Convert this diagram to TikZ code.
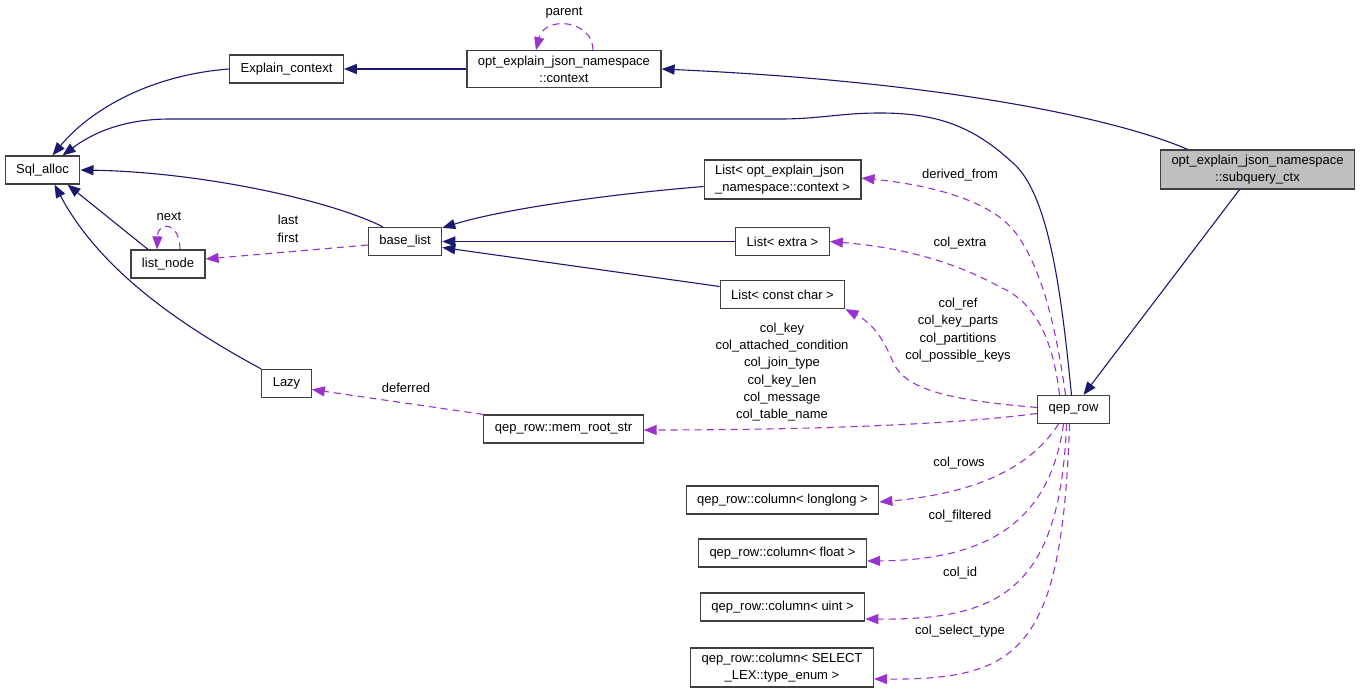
\documentclass[tikz,border=0pt]{standalone}
\usepackage{fontspec}
\setmainfont{Liberation Sans}
\usetikzlibrary{arrows.meta}
\definecolor{inhblue}{HTML}{191970}
\definecolor{usepurple}{HTML}{9A32CD}
\definecolor{focusgray}{HTML}{BFBFBF}

\begin{document}
\begin{tikzpicture}[x=1pt, y=-1pt, font=\fontsize{13}{17}\selectfont,
    cls/.style={draw=black!75, fill=white, line width=1.2pt, inner xsep=11pt, inner ysep=5pt, minimum height=28pt, align=center},
    inh/.style={draw=inhblue, line width=1.1pt, -{Triangle[length=13pt,width=10pt]}},
    use/.style={draw=usepurple, line width=1.1pt, dash pattern=on 7pt off 5pt, -{Triangle[length=13pt,width=10pt]}},
    lbl/.style={inner sep=0pt, align=center, font=\fontsize{13}{17.3}\selectfont}]
        \useasboundingbox (0,0) rectangle (1360,696);

        % Classes
        \node (sql) at (42.5,170) [cls] {Sql\_alloc};
        \node (exc) at (286.5,69) [cls] {Explain\_context};
        \node (ctx) at (564,69) [cls] {opt\_explain\_json\_namespace\\::context};
        \node (sub) at (1257.5,169.5) [cls, fill=focusgray] {opt\_explain\_json\_namespace\\::subquery\_ctx};
        \node (lst) at (168,264) [cls] {list\_node};
        \node (base) at (405,241.5) [cls] {base\_list};
        \node (lazy) at (286.5,383.5) [cls] {Lazy};
        \node (mem) at (563.5,429) [cls] {qep\_row::mem\_root\_str};
        \node (qep) at (1073.5,409.5) [cls] {qep\_row};

        % Lists
        \node (lopt) at (782.5,179.5) [cls, align=left] {List< opt\_explain\_json\\\_namespace::context >};
        \node (lext) at (782.5,241.5) [cls] {List< extra >};
        \node (lcc) at (782.5,294.5) [cls] {List< const char >};

        % Columns
        \foreach \n/\y/\t in {clong/500/longlong, cflt/553/float, cuint/607/uint}
            \node (\n) at (782.5,\y) [cls] {qep\_row::column< \t{} >};
        \node (csel) at (782,667.5) [cls] {qep\_row::column< SELECT\\\_LEX::type\_enum >};

        % Inheritance
        \draw[inh] (exc.west) .. controls (150,75) and (90,110) .. ([xshift=10pt]sql.north);
        \draw[inh] (ctx.west) -- (exc.east);
        \draw[inh] ([xshift=-70pt]sub.north) .. controls (1120,120) and (950,82) .. (ctx.east);
        \draw[inh] ([xshift=-2pt]qep.north) .. controls (1062,300) and (1050,195) .. (1013,163)
            .. controls (975,128) and (940,113) .. (880,113) .. controls (840,113) and (820,119) .. (780,119)
            -- (170,119) .. controls (120,119) and (90,135) .. ([xshift=20pt]sql.north);
        \draw[inh] ([xshift=-22pt]base.north) .. controls (330,200) and (200,172) .. (sql.east);
        \draw[inh] ([xshift=-20pt]lst.north) -- ([xshift=25pt]sql.south);
        \draw[inh] (lazy.north west) .. controls (180,325) and (100,270) .. ([xshift=12pt]sql.south);
        \draw[inh] ([yshift=-7pt]lopt.west) .. controls (600,195) and (500,210) .. ([yshift=-1pt]base.north east);
        \draw[inh] (lext.west) -- (base.east);
        \draw[inh] ([yshift=8pt]lcc.west) -- ([yshift=-6pt]base.east);
        \draw[inh] ([xshift=-18pt]sub.south) -- ([xshift=10pt]qep.north);

        % Members
        \draw[use] ([xshift=29pt]ctx.north) .. controls (593,20) and (545,15) .. ([xshift=-28pt]ctx.north);
        \draw[use] ([xshift=12pt]lst.north) .. controls (180,222) and (158,220) .. ([xshift=-11pt]lst.north);
        \draw[use] ([yshift=-3.5pt]base.west) -- ([yshift=5pt]lst.east);
        \draw[use] (mem.north west) -- ([yshift=-6pt]lazy.east);
        \draw[use] ([yshift=-4pt]qep.west) .. controls (950,425) and (800,430) .. ([yshift=-1pt]mem.east);
        \draw[use] ([yshift=2pt]qep.west) .. controls (950,400) and (905,390) .. (893,362)
            .. controls (882,335) and (870,322) .. (lcc.south east);
        \draw[use] ([xshift=-14pt]qep.north) .. controls (1052,330) and (1030,300) .. (1000,287)
            .. controls (960,265) and (910,248) .. (lext.east);
        \draw[use] ([xshift=-8pt]qep.north) .. controls (1055,320) and (1040,265) .. (1015,232)
            .. controls (990,200) and (930,185) .. ([yshift=1.5pt]lopt.east);
        \draw[use] ([xshift=-15pt]qep.south) .. controls (1035,460) and (990,492) .. ([yshift=-2pt]clong.east);
        \draw[use] ([xshift=-10pt]qep.south) .. controls (1050,520) and (990,560) .. ([yshift=-8pt]cflt.east);
        \draw[use] ([xshift=-7pt]qep.south) .. controls (1060,590) and (1000,620) .. ([yshift=-12pt]cuint.east);
        \draw[use] ([xshift=-4pt]qep.south) .. controls (1062,650) and (1020,680) .. ([yshift=-11.5pt]csel.east);

        % Labels
        \node (tparent) at (564,13) [lbl] {parent};
        \node (tnext) at (169,216) [lbl] {next};
        \node (tlast) at (288,229) [lbl] {last\\first};
        \node (tdeferred) at (406,388) [lbl] {deferred};
        \node (tkey) at (782,372) [lbl] {col\_key\\col\_attached\_condition\\col\_join\_type\\col\_key\_len\\col\_message\\col\_table\_name};
        \node (tref) at (958,330) [lbl] {col\_ref\\col\_key\_parts\\col\_partitions\\col\_possible\_keys};
        \node (tderived) at (960,175) [lbl] {derived\_from};
        \node (textra) at (960,243) [lbl] {col\_extra};
        \node (trows) at (959,463) [lbl] {col\_rows};
        \node (tfiltered) at (960,516) [lbl] {col\_filtered};
        \node (tid) at (960,573) [lbl] {col\_id};
        \node (tselect) at (960,631) [lbl] {col\_select\_type};
    \end{tikzpicture}
\end{document}
